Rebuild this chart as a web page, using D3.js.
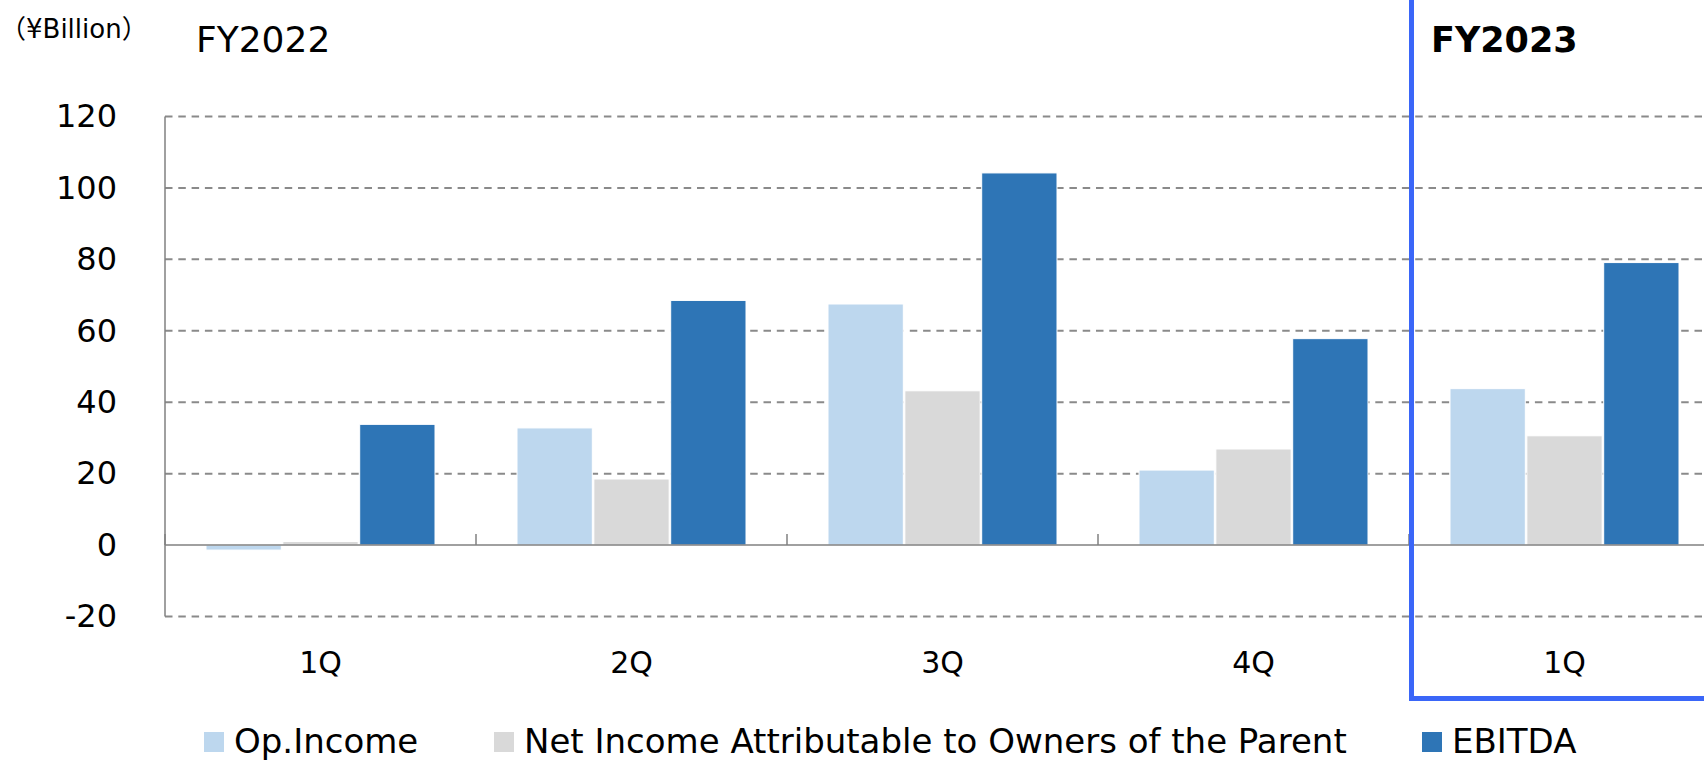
<!DOCTYPE html>
<html>
<head>
<meta charset="utf-8">
<script src="https://cdn.jsdelivr.net/npm/d3@7"></script>
<style>
  body { margin: 0; background: #fff; }
  svg { display: block; font-family: "DejaVu Sans", Verdana, sans-serif; }
</style>
</head>
<body>
<svg id="chart" width="1704" height="761"></svg>
<script>
// quarters (key is unique, label is what is shown)
const quarterKeys = ["FY2022-1Q", "FY2022-2Q", "FY2022-3Q", "FY2022-4Q", "FY2023-1Q"];
const quarterLabels = ["1Q", "2Q", "3Q", "4Q", "1Q"];

const seriesNames = ["Op.Income", "Net Income Attributable to Owners of the Parent", "EBITDA"];
const seriesColors = ["#bdd7ee", "#d9d9d9", "#2e75b6"];

// ¥ billion
const opIncome = [-1.4, 32.8, 67.5, 21.0, 43.8];
const netIncome = [1.0, 18.5, 43.2, 26.9, 30.6];
const ebitda = [33.8, 68.5, 104.2, 57.8, 79.1];

const yTicks = [-20, 0, 20, 40, 60, 80, 100, 120];

const width = 1704, height = 761;
const svg = d3.select("#chart");

// scales
const x0 = d3.scaleBand().domain(quarterKeys).range([165, 165 + 311 * 5]).padding(0);
const x1 = d3.scaleBand().domain(seriesNames).range([41, 270]).paddingInner(0.02);
const y = d3.scaleLinear().domain([-20, 120]).range([616.5, 116.5]);

const rows = quarterKeys.map((k, i) => ({
    key: k,
    values: [opIncome[i], netIncome[i], ebitda[i]]
}));

// grid lines (dashed), zero line drawn separately as solid axis
svg.append("g")
    .selectAll("line")
    .data(yTicks.filter(t => t !== 0))
    .enter().append("line")
    .attr("x1", 165)
    .attr("x2", width)
    .attr("y1", d => y(d))
    .attr("y2", d => y(d))
    .attr("stroke", "#8a8a8a")
    .attr("stroke-width", 2)
    .attr("stroke-dasharray", "7.5,5.8");

// y labels via axis (plain hyphen for negatives)
const yAxis = d3.axisLeft(y).tickValues(yTicks).tickSize(0).tickPadding(48)
    .tickFormat(d => String(d));
const gy = svg.append("g")
    .attr("transform", "translate(165,0)")
    .call(yAxis);
gy.select(".domain").remove();
gy.selectAll("text")
    .attr("font-size", 32)
    .attr("font-family", "DejaVu Sans, Verdana, sans-serif")
    .attr("fill", "#000");

// vertical axis line
svg.append("line")
    .attr("x1", 165).attr("x2", 165)
    .attr("y1", y(120)).attr("y2", y(-20))
    .attr("stroke", "#808080")
    .attr("stroke-width", 1.5);

// bars
const groups = svg.selectAll(".quarter")
    .data(rows)
    .enter().append("g")
    .attr("class", "quarter")
    .attr("transform", d => `translate(${x0(d.key)},0)`);

groups.selectAll("rect")
    .data(d => d.values.map((v, j) => ({ name: seriesNames[j], value: v, color: seriesColors[j] })))
    .enter().append("rect")
    .attr("x", d => x1(d.name))
    .attr("width", x1.bandwidth())
    .attr("y", d => y(Math.max(0, d.value)))
    .attr("height", d => Math.abs(y(d.value) - y(0)))
    .attr("fill", d => d.color)
    .attr("stroke", "#fff")
    .attr("stroke-width", 1);

// zero axis line
svg.append("line")
    .attr("x1", 165).attr("x2", width)
    .attr("y1", y(0)).attr("y2", y(0))
    .attr("stroke", "#808080")
    .attr("stroke-width", 1.5);

// category boundary ticks (pointing up from the axis)
svg.append("g")
    .selectAll("line")
    .data(quarterKeys)
    .enter().append("line")
    .attr("x1", d => x0(d)).attr("x2", d => x0(d))
    .attr("y1", y(0) - 11).attr("y2", y(0))
    .attr("stroke", "#808080")
    .attr("stroke-width", 1.5);

// category labels
const xAxis = d3.axisBottom(x0).tickSize(0).tickPadding(0).tickFormat((d, i) => quarterLabels[i]);
const gx = svg.append("g")
    .attr("transform", `translate(0,${y(0)})`)
    .call(xAxis);
gx.select(".domain").remove();
gx.selectAll("text")
    .attr("font-size", 30)
    .attr("font-family", "DejaVu Sans, Verdana, sans-serif")
    .attr("fill", "#000")
    .attr("dy", null)
    .attr("y", 128);

// titles
const unit = svg.append("text")
    .attr("x", 0).attr("y", 38)
    .attr("font-size", 26);
unit.append("tspan").attr("font-family", "'Noto Sans CJK JP', sans-serif").text("（");
unit.append("tspan").text("¥Billion");
unit.append("tspan").attr("font-family", "'Noto Sans CJK JP', sans-serif").text("）");

svg.append("text")
    .attr("x", 196).attr("y", 51.7)
    .attr("font-size", 36)
    .text("FY2022");

svg.append("text")
    .attr("x", 1431).attr("y", 51.7)
    .attr("font-size", 35)
    .attr("font-weight", "bold")
    .text("FY2023");

// FY2023 highlight frame
svg.append("path")
    .attr("d", `M1411.5,-5 L1411.5,698.5 L${width + 5},698.5`)
    .attr("fill", "none")
    .attr("stroke", "#3a66f8")
    .attr("stroke-width", 5);

// legend
const legendX = [204, 494, 1422];
const legend = svg.selectAll(".legend")
    .data(seriesNames)
    .enter().append("g")
    .attr("class", "legend")
    .attr("transform", (d, i) => `translate(${legendX[i]},732)`);

legend.append("rect")
    .attr("width", 20).attr("height", 20)
    .attr("fill", (d, i) => seriesColors[i]);

legend.append("text")
    .attr("x", 30).attr("y", 21)
    .attr("font-size", 34)
    .text(d => d);
</script>
</body>
</html>
